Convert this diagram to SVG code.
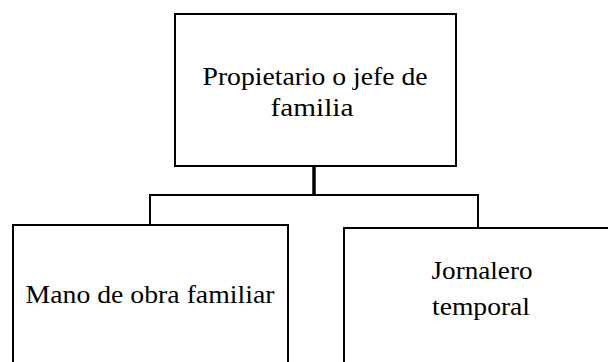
<svg xmlns="http://www.w3.org/2000/svg" width="608" height="362" viewBox="0 0 608 362">
<style>
.box{fill:#fff;stroke:#000;stroke-width:2}
.lbl{font-family:"Liberation Serif","Times New Roman",serif;font-size:25px;fill:#000;text-anchor:middle}
.con{fill:none;stroke:#000;stroke-width:2}
</style>
<rect width="608" height="362" fill="#fff"/>
<g id="connectors">
<line class="con" x1="314" y1="166" x2="314" y2="195" style="stroke-width:3.5"/>
<polyline class="con" points="150,225 150,195 478,195 478,228"/>
</g>
<g id="n1">
<rect class="box" x="175" y="14" width="281" height="152"/>
<text class="lbl" x="315" y="85" textLength="225" lengthAdjust="spacingAndGlyphs">Propietario o jefe de</text>
<text class="lbl" x="312" y="116" textLength="83" lengthAdjust="spacingAndGlyphs">familia</text>
</g>
<g id="n2">
<rect class="box" x="13" y="225" width="275" height="150"/>
<text class="lbl" x="150" y="303" textLength="249" lengthAdjust="spacingAndGlyphs">Mano de obra familiar</text>
</g>
<g id="n3">
<rect class="box" x="344" y="228" width="280" height="150"/>
<text class="lbl" x="482" y="279" textLength="101" lengthAdjust="spacingAndGlyphs">Jornalero</text>
<text class="lbl" x="481" y="315" textLength="98" lengthAdjust="spacingAndGlyphs">temporal</text>
</g>
</svg>
